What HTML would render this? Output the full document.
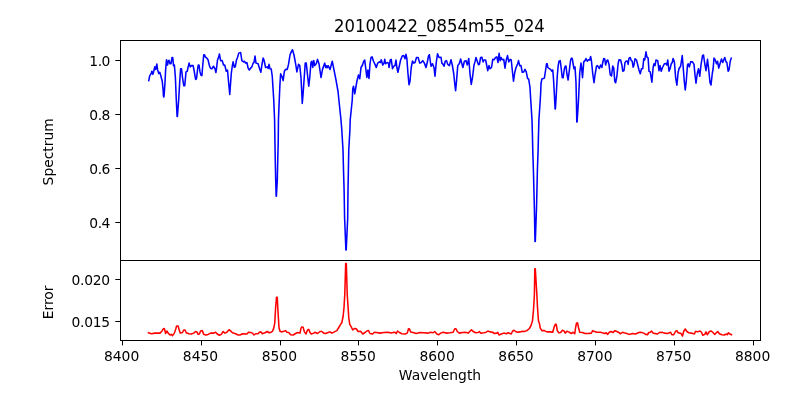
<!DOCTYPE html>
<html><head><meta charset="utf-8"><title>20100422_0854m55_024</title>
<style>html,body{margin:0;padding:0;background:#fff;}svg{display:block;will-change:transform;}text{font-family:"DejaVu Sans","Liberation Sans",sans-serif;fill:#000;}</style></head><body>
<svg width="800" height="400" viewBox="0 0 800 400">
<rect width="800" height="400" fill="#fff"/>
<path d="M148.75 80.62 L149.75 75.62 L151.25 73.50 L151.88 71.25 L152.88 74.38 L153.75 71.25 L154.75 66.88 L155.75 69.38 L156.88 64.00 L157.50 69.38 L158.75 73.50 L159.75 72.25 L160.62 75.00 L162.25 81.25 L163.12 90.00 L163.40 95.50 L163.75 97.00 L164.10 95.50 L165.00 82.50 L165.62 70.00 L166.50 59.75 L167.50 65.00 L168.50 60.62 L169.00 60.25 L170.00 63.75 L171.00 63.75 L172.00 57.50 L172.75 57.50 L173.50 65.62 L174.38 65.00 L175.38 77.50 L176.25 98.75 L177.10 116.50 L177.40 116.50 L178.75 98.75 L179.75 81.25 L180.62 68.75 L181.50 68.75 L182.50 77.50 L183.75 85.62 L184.75 85.62 L186.00 71.88 L187.25 71.25 L188.12 66.88 L189.12 63.12 L190.25 66.88 L191.50 65.62 L193.12 65.62 L194.00 70.00 L195.62 79.38 L196.50 78.75 L197.50 70.00 L198.25 65.00 L199.00 65.00 L200.00 71.88 L200.88 75.00 L201.88 75.62 L202.88 63.75 L203.75 54.75 L204.50 54.75 L205.25 56.88 L206.88 58.12 L208.12 60.00 L209.38 65.62 L210.62 68.50 L211.88 68.75 L213.50 66.25 L215.00 68.75 L215.88 72.50 L216.50 68.75 L217.50 60.00 L218.75 56.88 L219.38 54.00 L220.62 60.62 L222.25 60.62 L223.50 65.00 L224.75 65.00 L226.25 71.25 L227.50 70.00 L228.50 81.25 L229.75 94.38 L231.25 73.75 L232.25 66.25 L233.12 61.88 L234.38 67.25 L235.25 66.88 L236.50 60.00 L237.50 57.50 L238.75 53.12 L240.62 52.50 L241.88 60.62 L243.50 61.88 L244.38 61.25 L245.62 63.12 L246.88 62.50 L248.12 68.12 L249.38 70.00 L250.62 68.12 L251.88 66.88 L253.12 63.12 L254.00 62.50 L255.00 56.00 L256.00 63.12 L258.12 63.75 L259.38 68.12 L260.88 72.25 L261.88 65.00 L263.12 58.12 L264.00 60.00 L265.62 67.50 L267.25 66.88 L268.12 68.50 L269.00 64.38 L270.00 68.75 L271.25 69.00 L272.25 76.25 L272.50 80.00 L273.75 100.00 L274.60 120.00 L274.90 140.00 L275.25 160.00 L275.70 180.00 L276.15 196.30 L276.40 196.30 L277.30 180.00 L277.75 160.00 L278.25 140.00 L278.45 120.00 L279.25 100.00 L279.90 85.00 L280.62 73.75 L281.88 76.25 L283.12 80.62 L284.38 71.25 L285.62 69.38 L287.25 69.38 L288.50 64.38 L290.00 55.00 L291.25 51.88 L292.50 49.75 L294.00 55.00 L295.62 63.75 L296.88 71.88 L298.50 64.38 L299.75 65.62 L301.00 77.50 L301.90 95.00 L302.25 103.50 L303.00 95.00 L304.75 70.00 L305.25 63.12 L306.25 63.12 L307.25 72.50 L308.75 86.25 L309.75 77.50 L311.00 62.50 L311.88 61.25 L312.75 67.50 L313.75 60.62 L314.75 65.62 L316.25 63.75 L317.50 59.38 L319.00 63.75 L321.00 77.50 L322.50 69.38 L324.75 63.12 L325.75 67.50 L326.75 65.75 L327.25 67.75 L328.25 65.75 L330.00 69.50 L332.25 61.25 L333.75 68.75 L336.00 80.00 L338.00 91.25 L338.90 100.00 L341.00 120.00 L341.80 130.00 L343.00 150.00 L343.50 170.00 L344.10 190.00 L344.60 218.00 L345.90 250.00 L346.20 250.00 L347.70 218.00 L348.00 190.00 L348.40 170.00 L348.75 150.00 L349.90 130.00 L350.20 120.00 L352.25 100.00 L352.75 88.75 L353.50 86.25 L354.75 93.75 L355.62 88.75 L356.88 81.25 L358.50 75.00 L359.75 78.75 L361.00 67.50 L362.50 65.00 L363.75 61.25 L364.75 60.00 L365.62 67.50 L366.88 77.50 L367.88 70.00 L369.00 78.50 L370.00 63.75 L371.00 57.50 L372.12 56.88 L373.50 61.25 L375.00 64.38 L376.25 67.50 L377.75 63.12 L379.38 61.88 L380.38 62.50 L381.25 59.75 L382.75 65.00 L384.00 63.12 L384.75 59.38 L385.62 63.75 L387.25 62.50 L388.50 63.12 L389.00 67.50 L390.25 60.00 L391.25 59.38 L392.50 68.75 L393.75 66.25 L395.00 65.62 L396.00 60.00 L396.88 67.50 L397.88 72.25 L399.00 67.50 L400.62 60.00 L402.25 56.00 L403.75 55.62 L405.00 58.75 L406.00 54.38 L406.88 58.75 L407.88 72.50 L409.00 84.75 L410.00 81.25 L411.25 67.50 L412.50 61.00 L413.75 63.12 L415.00 62.50 L416.50 57.50 L418.12 57.50 L419.75 63.12 L421.25 62.50 L422.75 60.62 L424.38 63.12 L426.00 67.50 L427.25 62.50 L428.50 56.00 L429.38 54.75 L431.00 66.25 L432.50 63.75 L434.00 67.50 L435.00 76.25 L436.25 62.50 L437.50 53.75 L439.00 57.50 L441.00 57.25 L441.88 63.12 L443.12 64.38 L444.00 66.25 L445.25 61.25 L446.50 60.62 L447.75 64.38 L449.38 65.62 L451.00 59.75 L452.25 65.00 L453.75 73.75 L454.75 83.75 L455.62 90.62 L456.50 81.25 L457.75 65.62 L459.38 63.50 L460.62 59.00 L461.88 63.75 L462.88 67.50 L464.38 61.25 L466.00 60.62 L467.25 65.00 L468.75 58.50 L470.00 73.75 L471.25 84.38 L472.50 77.50 L474.00 65.00 L475.00 61.88 L476.00 57.50 L477.25 61.25 L478.50 64.75 L479.38 64.38 L480.62 57.50 L481.88 57.25 L483.12 61.88 L484.00 60.00 L485.62 60.00 L486.88 66.25 L487.75 70.62 L489.00 65.62 L490.00 68.75 L491.50 67.50 L492.75 59.38 L494.00 59.75 L495.62 57.50 L496.88 56.88 L498.00 62.50 L499.12 53.25 L500.12 60.62 L501.00 57.50 L502.25 59.75 L503.75 59.38 L505.00 68.12 L506.25 60.00 L507.50 55.62 L508.75 61.88 L510.25 59.38 L511.25 60.00 L512.25 70.00 L513.50 81.25 L514.75 72.50 L516.00 67.50 L517.50 64.38 L518.50 60.62 L519.75 65.62 L521.00 65.62 L522.25 72.25 L523.75 71.88 L525.00 69.38 L526.25 71.88 L527.50 78.12 L528.75 79.38 L530.00 87.50 L530.30 93.00 L530.75 100.00 L532.00 120.00 L532.50 138.00 L532.75 150.00 L533.40 170.00 L534.30 205.00 L535.00 241.50 L535.30 241.50 L536.60 205.00 L537.40 170.00 L538.10 150.00 L538.40 138.00 L538.90 120.00 L540.25 100.00 L540.70 92.00 L541.00 83.75 L541.88 79.00 L544.38 78.12 L545.62 70.00 L546.50 63.75 L547.25 63.75 L547.75 67.50 L549.38 68.75 L550.62 69.38 L551.88 71.25 L552.75 70.00 L553.50 78.75 L554.40 95.00 L555.10 109.00 L555.40 109.00 L556.25 95.00 L557.25 76.25 L558.12 66.25 L559.00 61.25 L560.25 60.62 L561.25 68.75 L562.25 77.50 L563.12 77.75 L564.38 68.75 L565.25 66.25 L566.00 66.00 L566.88 73.75 L568.12 80.00 L569.38 70.00 L570.62 60.00 L571.50 58.12 L572.25 58.50 L573.12 63.75 L574.00 68.75 L575.00 66.88 L576.00 82.50 L576.40 100.00 L576.80 122.00 L577.10 122.00 L578.50 100.00 L579.75 72.50 L581.00 63.12 L581.62 67.50 L582.50 77.75 L583.75 61.88 L585.00 60.62 L586.00 58.50 L587.25 61.25 L588.50 59.75 L589.75 60.00 L590.62 56.50 L591.50 61.25 L592.75 73.75 L594.00 82.75 L595.00 75.00 L596.50 66.25 L597.50 65.62 L599.38 68.50 L600.62 65.00 L601.88 67.50 L602.75 62.50 L603.75 58.50 L604.75 59.00 L605.62 65.00 L606.88 60.62 L607.75 60.00 L609.00 64.38 L610.25 75.00 L611.50 76.00 L612.75 66.00 L613.75 68.12 L614.75 81.25 L615.62 82.75 L616.88 76.25 L618.12 63.75 L619.00 59.75 L620.62 60.00 L621.88 65.00 L622.75 71.25 L624.00 70.62 L625.00 62.50 L626.25 61.00 L627.50 61.25 L628.12 64.38 L629.00 58.12 L630.25 57.50 L631.25 60.62 L632.25 61.25 L633.12 67.25 L634.00 65.00 L635.00 58.75 L636.50 60.00 L637.75 65.00 L639.00 70.00 L640.25 73.75 L641.50 68.75 L642.75 68.75 L643.75 58.75 L644.75 60.00 L646.00 51.88 L646.88 56.88 L648.12 58.12 L649.00 71.25 L650.25 71.88 L651.88 82.25 L653.12 67.50 L654.00 63.75 L655.00 65.62 L656.00 60.00 L657.75 60.62 L659.00 70.62 L660.00 65.62 L661.25 71.25 L662.50 67.50 L664.38 63.75 L666.00 63.50 L666.88 65.00 L667.75 60.00 L669.00 71.25 L670.25 68.12 L671.25 63.75 L672.25 62.50 L673.12 58.50 L674.38 61.88 L675.62 77.50 L676.88 85.25 L678.12 72.50 L679.00 68.75 L680.62 66.25 L682.25 55.62 L683.12 66.25 L684.38 82.50 L685.25 90.00 L686.25 81.25 L687.50 65.00 L688.12 63.75 L689.38 66.88 L690.62 61.88 L692.50 61.88 L694.00 64.38 L695.00 75.00 L696.00 83.12 L697.25 73.75 L698.50 68.75 L699.75 76.25 L701.00 65.00 L702.50 55.62 L703.50 55.00 L704.75 63.75 L706.00 70.62 L707.50 59.38 L708.75 70.00 L710.00 82.50 L711.00 85.00 L712.25 73.75 L713.12 68.75 L714.00 58.12 L715.25 60.00 L716.50 63.75 L717.50 61.25 L718.75 68.12 L720.00 63.75 L721.50 59.00 L722.75 62.50 L724.75 57.50 L726.00 61.88 L726.88 62.50 L728.12 71.25 L729.00 70.00 L730.25 61.25 L731.25 58.12" fill="none" stroke="#0000ff" stroke-width="1.55" stroke-linejoin="round" stroke-linecap="square"/>
<path d="M148.50 332.75 L151.25 333.75 L155.00 333.12 L160.00 333.12 L161.88 331.25 L163.12 329.00 L164.38 328.50 L165.62 333.50 L166.88 331.00 L168.12 333.12 L170.00 335.00 L171.25 334.38 L172.50 335.62 L174.38 333.12 L175.62 329.38 L176.62 326.00 L178.12 326.00 L179.38 330.62 L180.25 333.12 L182.50 332.50 L183.75 330.00 L185.00 330.00 L186.25 332.75 L188.75 333.75 L191.25 334.00 L193.75 333.12 L195.62 331.50 L196.88 331.88 L198.12 334.38 L199.38 334.00 L200.62 331.00 L202.25 330.62 L203.75 334.38 L205.62 335.00 L208.12 334.38 L210.62 333.12 L213.75 333.12 L215.62 332.25 L217.25 334.00 L219.38 335.25 L221.25 334.38 L223.12 331.50 L225.00 333.12 L226.88 332.25 L229.00 329.75 L230.25 330.62 L232.50 332.75 L235.62 333.75 L238.12 335.00 L240.00 335.00 L242.50 333.75 L246.88 334.00 L248.50 332.25 L250.62 332.50 L252.50 333.12 L254.00 335.00 L255.62 333.75 L258.12 333.75 L259.38 332.25 L261.00 331.88 L262.25 333.75 L265.00 332.75 L267.25 331.50 L269.00 332.75 L271.25 332.25 L272.50 331.25 L273.75 328.12 L274.75 323.12 L275.62 307.50 L276.50 297.25 L277.25 297.25 L278.12 313.75 L279.00 327.50 L280.00 331.25 L281.25 331.88 L283.75 331.25 L285.62 330.62 L286.88 332.25 L288.75 332.50 L290.62 334.75 L293.12 335.00 L295.62 333.50 L297.50 332.50 L300.00 333.12 L301.00 328.12 L301.88 326.88 L303.12 327.25 L304.38 331.88 L306.00 334.00 L307.50 330.00 L308.75 329.38 L310.00 332.50 L311.25 334.00 L313.75 333.12 L315.00 332.25 L317.50 333.50 L320.00 331.50 L321.88 331.50 L323.75 333.12 L325.62 333.50 L328.75 332.25 L330.00 331.88 L331.88 333.12 L334.38 331.88 L336.88 330.62 L338.75 327.50 L340.62 324.38 L341.88 322.50 L343.12 316.25 L344.00 307.50 L344.75 295.00 L345.70 263.50 L346.30 263.50 L347.25 295.00 L348.12 307.50 L348.75 317.50 L349.75 324.38 L351.25 326.88 L352.75 330.00 L354.38 328.50 L356.25 328.75 L358.12 331.50 L360.62 331.25 L362.75 334.00 L365.00 332.50 L366.88 331.00 L368.50 330.62 L370.00 333.50 L372.50 334.00 L374.38 332.25 L376.88 332.50 L380.00 333.12 L383.75 332.50 L388.12 332.25 L391.25 333.12 L393.75 332.25 L395.62 332.50 L396.25 333.75 L397.50 331.00 L399.38 332.50 L401.88 333.75 L405.00 334.00 L407.25 333.12 L408.50 328.75 L409.38 328.75 L410.62 331.88 L413.12 332.50 L416.25 333.50 L420.00 332.50 L423.75 332.75 L428.12 333.12 L430.62 332.25 L433.12 332.75 L434.75 331.50 L436.88 334.00 L438.75 334.75 L440.62 333.12 L443.12 332.25 L446.88 333.12 L450.00 332.75 L453.12 332.25 L454.75 328.75 L456.00 328.75 L457.25 331.50 L459.38 333.12 L462.50 332.50 L465.62 332.25 L468.12 333.12 L470.00 331.25 L471.50 329.75 L473.12 331.50 L475.62 332.75 L478.12 332.50 L479.38 331.50 L480.62 333.12 L483.75 332.75 L486.25 332.25 L487.75 331.00 L490.00 331.88 L492.50 332.25 L494.38 333.50 L496.88 333.12 L497.75 332.25 L499.00 335.00 L501.25 334.00 L504.38 333.12 L506.25 333.75 L508.12 332.75 L511.25 334.00 L512.50 331.25 L514.00 330.25 L515.62 331.50 L517.50 332.25 L520.00 331.88 L522.50 331.25 L524.38 331.50 L526.88 330.62 L529.38 328.50 L531.00 325.62 L532.50 320.62 L533.50 310.00 L534.38 295.00 L534.80 268.80 L535.30 268.80 L536.88 295.00 L537.50 307.50 L538.50 321.25 L539.38 323.12 L540.25 328.12 L541.88 330.62 L544.38 330.62 L546.88 331.88 L550.62 331.88 L552.75 332.25 L554.00 327.50 L555.25 324.38 L556.25 324.38 L557.25 330.62 L558.75 332.75 L560.62 332.50 L562.50 330.25 L563.75 330.62 L565.25 333.12 L566.88 331.25 L568.75 331.88 L571.25 333.50 L573.12 332.25 L574.75 333.75 L575.62 327.50 L576.50 323.12 L577.50 322.75 L578.50 327.50 L579.75 332.25 L582.50 332.50 L585.00 333.50 L588.12 333.50 L591.25 333.12 L592.75 330.62 L594.38 331.50 L596.88 332.25 L600.62 332.25 L603.12 333.12 L605.00 333.50 L606.25 332.75 L607.50 334.38 L609.38 332.25 L611.00 331.50 L613.12 332.50 L615.00 330.62 L616.88 331.50 L618.75 332.50 L620.62 333.75 L622.50 332.25 L625.00 333.12 L627.50 333.75 L629.38 334.38 L632.50 333.50 L635.62 334.00 L638.12 332.75 L640.00 332.25 L641.88 332.50 L643.75 333.12 L645.62 334.38 L647.50 334.75 L648.75 332.50 L650.25 332.25 L651.50 331.00 L653.12 333.12 L655.00 333.50 L657.50 334.00 L659.38 332.50 L661.88 332.25 L664.38 333.12 L667.50 333.50 L670.62 332.25 L671.88 334.75 L673.75 334.75 L675.62 331.25 L676.88 330.62 L678.12 332.75 L680.00 333.12 L681.25 333.75 L682.50 336.00 L683.75 331.25 L685.25 329.00 L686.88 331.50 L688.75 332.75 L691.25 333.12 L694.38 334.00 L695.62 331.25 L697.50 331.88 L700.00 331.00 L701.50 332.25 L702.75 335.25 L704.75 334.38 L706.00 331.88 L707.25 334.75 L709.38 331.50 L711.25 331.00 L713.12 332.75 L714.75 334.38 L716.88 332.25 L717.75 331.50 L719.38 333.75 L721.88 334.75 L724.38 335.00 L726.25 334.00 L727.25 334.75 L728.50 332.75 L729.75 334.00 L731.50 334.75" fill="none" stroke="#ff0000" stroke-width="1.55" stroke-linejoin="round" stroke-linecap="square"/>
<g stroke="#000" stroke-width="1.0" fill="none" shape-rendering="crispEdges">
<rect x="120.5" y="40.5" width="640.0" height="220.0"/>
<rect x="120.5" y="260.5" width="640.0" height="80.0"/>
<line x1="122.5" y1="340.5" x2="122.5" y2="345.4" shape-rendering="auto"/>
<line x1="201.5" y1="340.5" x2="201.5" y2="345.4" shape-rendering="auto"/>
<line x1="280.5" y1="340.5" x2="280.5" y2="345.4" shape-rendering="auto"/>
<line x1="358.5" y1="340.5" x2="358.5" y2="345.4" shape-rendering="auto"/>
<line x1="437.5" y1="340.5" x2="437.5" y2="345.4" shape-rendering="auto"/>
<line x1="516.5" y1="340.5" x2="516.5" y2="345.4" shape-rendering="auto"/>
<line x1="595.5" y1="340.5" x2="595.5" y2="345.4" shape-rendering="auto"/>
<line x1="674.5" y1="340.5" x2="674.5" y2="345.4" shape-rendering="auto"/>
<line x1="753.5" y1="340.5" x2="753.5" y2="345.4" shape-rendering="auto"/>
<line x1="115.3" y1="60.5" x2="120.5" y2="60.5" shape-rendering="auto"/>
<line x1="115.3" y1="114.5" x2="120.5" y2="114.5" shape-rendering="auto"/>
<line x1="115.3" y1="168.5" x2="120.5" y2="168.5" shape-rendering="auto"/>
<line x1="115.3" y1="222.5" x2="120.5" y2="222.5" shape-rendering="auto"/>
<line x1="115.3" y1="279.5" x2="120.5" y2="279.5" shape-rendering="auto"/>
<line x1="115.3" y1="321.5" x2="120.5" y2="321.5" shape-rendering="auto"/>
</g>
<text transform="translate(121.60,361.30) scale(1,1.06)" font-size="13.89" text-anchor="middle">8400</text>
<text transform="translate(200.48,361.30) scale(1,1.06)" font-size="13.89" text-anchor="middle">8450</text>
<text transform="translate(279.35,361.30) scale(1,1.06)" font-size="13.89" text-anchor="middle">8500</text>
<text transform="translate(358.23,361.30) scale(1,1.06)" font-size="13.89" text-anchor="middle">8550</text>
<text transform="translate(437.10,361.30) scale(1,1.06)" font-size="13.89" text-anchor="middle">8600</text>
<text transform="translate(515.97,361.30) scale(1,1.06)" font-size="13.89" text-anchor="middle">8650</text>
<text transform="translate(594.85,361.30) scale(1,1.06)" font-size="13.89" text-anchor="middle">8700</text>
<text transform="translate(673.72,361.30) scale(1,1.06)" font-size="13.89" text-anchor="middle">8750</text>
<text transform="translate(752.60,361.30) scale(1,1.06)" font-size="13.89" text-anchor="middle">8800</text>
<text transform="translate(109.90,65.80) scale(1,1.06)" font-size="13.89" text-anchor="end" letter-spacing="-0.500">1.0</text>
<text transform="translate(109.90,119.80) scale(1,1.06)" font-size="13.89" text-anchor="end" letter-spacing="-0.500">0.8</text>
<text transform="translate(109.90,173.80) scale(1,1.06)" font-size="13.89" text-anchor="end" letter-spacing="-0.500">0.6</text>
<text transform="translate(109.90,227.80) scale(1,1.06)" font-size="13.89" text-anchor="end" letter-spacing="-0.500">0.4</text>
<text transform="translate(109.90,284.80) scale(1,1.06)" font-size="13.89" text-anchor="end" letter-spacing="-0.250">0.020</text>
<text transform="translate(109.90,326.80) scale(1,1.06)" font-size="13.89" text-anchor="end" letter-spacing="-0.250">0.015</text>
<text transform="translate(439.40,32.00) scale(1,1.09)" font-size="16.5" text-anchor="middle">20100422_0854m55_024</text>
<text transform="translate(440.00,379.50) scale(1,1.06)" font-size="13.89" text-anchor="middle">Wavelength</text>
<text transform="translate(52.50,151.80) rotate(-90) scale(1,1.0)" font-size="13.89" text-anchor="middle">Spectrum</text>
<text transform="translate(52.50,302.40) rotate(-90) scale(1,1.0)" font-size="13.89" text-anchor="middle">Error</text>
</svg></body></html>
